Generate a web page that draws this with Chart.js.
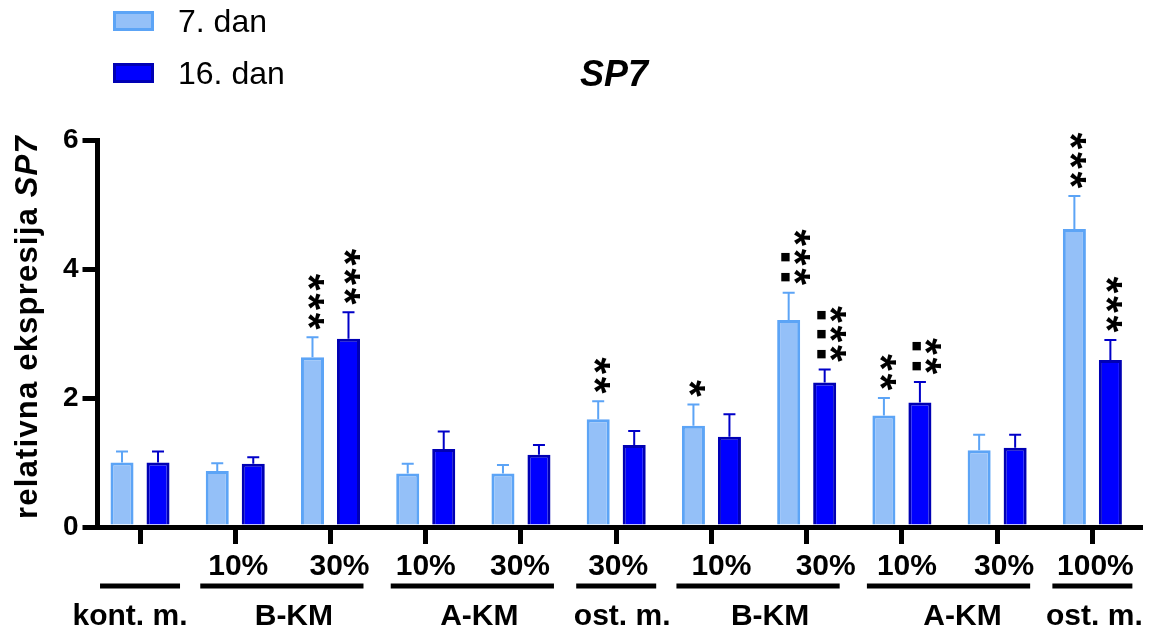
<!DOCTYPE html>
<html>
<head>
<meta charset="utf-8">
<script src="https://cdn.jsdelivr.net/npm/chart.js@4.4.1/dist/chart.umd.min.js"></script>
<style>
  html, body { margin: 0; padding: 0; background: #ffffff; }
  #wrap { width: 1154px; height: 634px; position: relative; }
</style>
</head>
<body>
<div id="wrap"><canvas id="c" width="1154" height="634"></canvas></div>
<script>
// ---- data -------------------------------------------------------------
const categories = ['kont. m.', 'B-KM 10%', 'B-KM 30%', 'A-KM 10%', 'A-KM 30%',
  'ost. m. 30%', 'B-KM 10% ', 'B-KM 30% ', 'A-KM 10% ', 'A-KM 30% ', 'ost. m. 100%'];
const concentrationLabels = ['', '10%', '30%', '10%', '30%', '30%', '10%', '30%', '10%', '30%', '100%'];
const groupNames = ['kont. m.', 'B-KM', 'A-KM', 'ost. m.', 'B-KM', 'A-KM', 'ost. m.'];
const groupFirst = [0, 1, 3, 5, 6, 8, 10];
const groupLast  = [0, 2, 4, 5, 7, 9, 10];

const day7Mean  = [1.00, 0.87, 2.63, 0.83, 0.83, 1.67, 1.57, 3.21, 1.73, 1.19, 4.62];
const day7Err   = [0.17, 0.12, 0.31, 0.15, 0.13, 0.28, 0.33, 0.42, 0.27, 0.24, 0.51];
const day16Mean = [1.00, 0.98, 2.92, 1.21, 1.12, 1.27, 1.40, 2.24, 1.93, 1.23, 2.59];
const day16Err  = [0.17, 0.10, 0.41, 0.27, 0.15, 0.22, 0.35, 0.20, 0.32, 0.20, 0.31];

// significance marks per bar: asterisks and squares
const day7Stars    = [0, 0, 3, 0, 0, 2, 1, 3, 2, 0, 3];
const day7Squares  = [0, 0, 0, 0, 0, 0, 0, 2, 0, 0, 0];
const day16Stars   = [0, 0, 3, 0, 0, 0, 0, 3, 2, 0, 3];
const day16Squares = [0, 0, 0, 0, 0, 0, 0, 3, 2, 0, 0];

const yTickValues = [0, 2, 4, 6];

// ---- layout / style ---------------------------------------------------
const FONT = '"Liberation Sans", Arial, Helvetica, sans-serif';
const LIGHT_FILL = '#94c0f8', LIGHT_EDGE = '#5ca4f6';
const DARK_FILL = '#0000ff', DARK_EDGE = '#0000b4';
const labelNudge = [0, 3, 9, 0, -1, 2, 10, 19, 5, 7, 3];
const nameNudge = [-10, 12, 7, 6, 12, 14, 2];

function drawGlyph(ctx, ch, cx, cy, angle) {
  const m = ctx.measureText(ch);
  ctx.save();
  ctx.translate(cx, cy);
  ctx.rotate(angle);
  ctx.fillText(ch, -(m.actualBoundingBoxRight - m.actualBoundingBoxLeft) / 2,
    (m.actualBoundingBoxAscent - m.actualBoundingBoxDescent) / 2);
  ctx.restore();
}

const decor = {
  id: 'decor',
  afterLayout(chart) {
    // category band starts slightly left of the value axis line
    const x = chart.scales.x;
    x.left = 92.4;
    x.right = 1140;
    x.width = x.right - x.left;
    x.configure();
  },
  afterDatasetsDraw(chart) {
    const ctx = chart.ctx;
    const y = chart.scales.y;
    chart.data.datasets.forEach((ds, di) => {
      const meta = chart.getDatasetMeta(di);
      meta.data.forEach((bar, i) => {
        const base = y.getPixelForValue(ds.data[i]);
        const capY = y.getPixelForValue(ds.data[i] + ds.errors[i]);
        // error bar (upper only)
        ctx.save();
        ctx.strokeStyle = ds.errorColor;
        ctx.lineWidth = 2;
        ctx.beginPath();
        ctx.moveTo(bar.x, base);
        ctx.lineTo(bar.x, capY);
        ctx.moveTo(bar.x - 6, capY);
        ctx.lineTo(bar.x + 6, capY);
        ctx.stroke();
        ctx.restore();
        // significance marks
        const nStar = ds.stars[i], nSq = ds.squares[i];
        if (!nStar && !nSq) return;
        const starX = nSq ? bar.x + 13 : bar.x + 4;
        const sqX = bar.x - 3;
        ctx.save();
        ctx.fillStyle = '#000';
        ctx.textAlign = 'left';
        ctx.textBaseline = 'alphabetic';
        ctx.font = `bold 43px ${FONT}`;
        for (let k = 0; k < nStar; k++) {
          drawGlyph(ctx, '*', starX, capY - 16 - k * 19.5, Math.PI / 2);
        }
        ctx.font = `11px "DejaVu Sans", sans-serif`;
        for (let k = 0; k < nSq; k++) {
          drawGlyph(ctx, '■', sqX, capY - 16 - k * 19.5, 0);
        }
        ctx.restore();
      });
    });
  },
  afterDraw(chart) {
    const ctx = chart.ctx;
    const x = chart.scales.x;
    ctx.save();
    ctx.fillStyle = '#000';
    ctx.strokeStyle = '#000';

    // legend
    chart.data.datasets.forEach((ds, di) => {
      const top = 11 + di * 52;
      ctx.fillStyle = ds.borderColor;
      ctx.fillRect(113, top, 41, 20);
      ctx.fillStyle = ds.backgroundColor;
      ctx.fillRect(116, top + 3, 35, 14);
      ctx.fillStyle = '#000';
      ctx.font = `32px ${FONT}`;
      ctx.textAlign = 'left';
      ctx.textBaseline = 'alphabetic';
      ctx.fillText(ds.label, 178, top + 21);
    });

    // title
    ctx.font = `italic bold 36px ${FONT}`;
    ctx.textAlign = 'center';
    ctx.fillText('SP7', 614, 86);

    // value axis title
    ctx.save();
    ctx.translate(37, 327);
    ctx.rotate(-Math.PI / 2);
    ctx.textAlign = 'left';
    if ('letterSpacing' in ctx) ctx.letterSpacing = '1.2px';
    const fBold = `bold 31px ${FONT}`, fItal = `italic bold 31px ${FONT}`;
    const part1 = 'relativna ekspresija ', part2 = 'SP7';
    ctx.font = fBold; const w1 = ctx.measureText(part1).width;
    ctx.font = fItal; const w2 = ctx.measureText(part2).width;
    const sx = -(w1 + w2) / 2;
    ctx.font = fBold; ctx.fillText(part1, sx, 0);
    ctx.font = fItal; ctx.fillText(part2, sx + w1, 0);
    ctx.restore();

    // concentration labels
    ctx.font = `bold 30px ${FONT}`;
    ctx.textAlign = 'center';
    concentrationLabels.forEach((t, i) => {
      if (t) ctx.fillText(t, x.getPixelForValue(i) + labelNudge[i], 575);
    });

    // group underlines and names
    ctx.lineWidth = 5;
    groupNames.forEach((name, g) => {
      const a = groupFirst[g], b = groupLast[g];
      let x1, x2;
      if (a === b) {
        x1 = x.getPixelForValue(a) - 40;
        x2 = x.getPixelForValue(b) + 40;
      } else {
        x1 = x.getPixelForValue(a) - 35;
        x2 = x.getPixelForValue(b) + 33;
      }
      ctx.beginPath();
      ctx.moveTo(x1, 586);
      ctx.lineTo(x2, 586);
      ctx.stroke();
      ctx.fillText(name, (x1 + x2) / 2 + nameNudge[g], 625);
    });
    ctx.restore();
  }
};

new Chart(document.getElementById('c'), {
  type: 'bar',
  data: {
    labels: categories,
    datasets: [
      {
        label: '7. dan',
        data: day7Mean,
        errors: day7Err,
        stars: day7Stars,
        squares: day7Squares,
        backgroundColor: LIGHT_FILL,
        borderColor: LIGHT_EDGE,
        errorColor: LIGHT_EDGE,
        borderWidth: 3
      },
      {
        label: '16. dan',
        data: day16Mean,
        errors: day16Err,
        stars: day16Stars,
        squares: day16Squares,
        backgroundColor: DARK_FILL,
        borderColor: DARK_EDGE,
        errorColor: '#0000c8',
        borderWidth: 3
      }
    ]
  },
  options: {
    responsive: false,
    animation: false,
    devicePixelRatio: 1,
    layout: { padding: { left: 0, top: 140, right: 12, bottom: 0 } },
    datasets: { bar: { categoryPercentage: 0.756, barPercentage: 0.64 } },
    plugins: { legend: { display: false }, tooltip: { enabled: false }, title: { display: false } },
    scales: {
      x: {
        afterFit(s) { s.height = 107; },
        grid: { offset: false, drawOnChartArea: false, drawTicks: true, tickLength: 17,
          tickWidth: 5, tickColor: '#000', lineWidth: 5, color: '#000' },
        border: { display: true, width: 5, color: '#000' },
        ticks: { display: false }
      },
      y: {
        min: 0,
        max: 6,
        afterFit(s) { s.width = 97.5; },
        afterBuildTicks(s) { s.ticks = yTickValues.map(v => ({ value: v })); },
        grid: { drawOnChartArea: false, drawTicks: true, tickLength: 15,
          tickWidth: 5, tickColor: '#000', lineWidth: 5, color: '#000' },
        border: { display: true, width: 5, color: '#000' },
        ticks: { color: '#000', padding: 4, font: { family: FONT, size: 28, weight: 'bold' } }
      }
    }
  },
  plugins: [decor]
});
</script>
</body>
</html>
